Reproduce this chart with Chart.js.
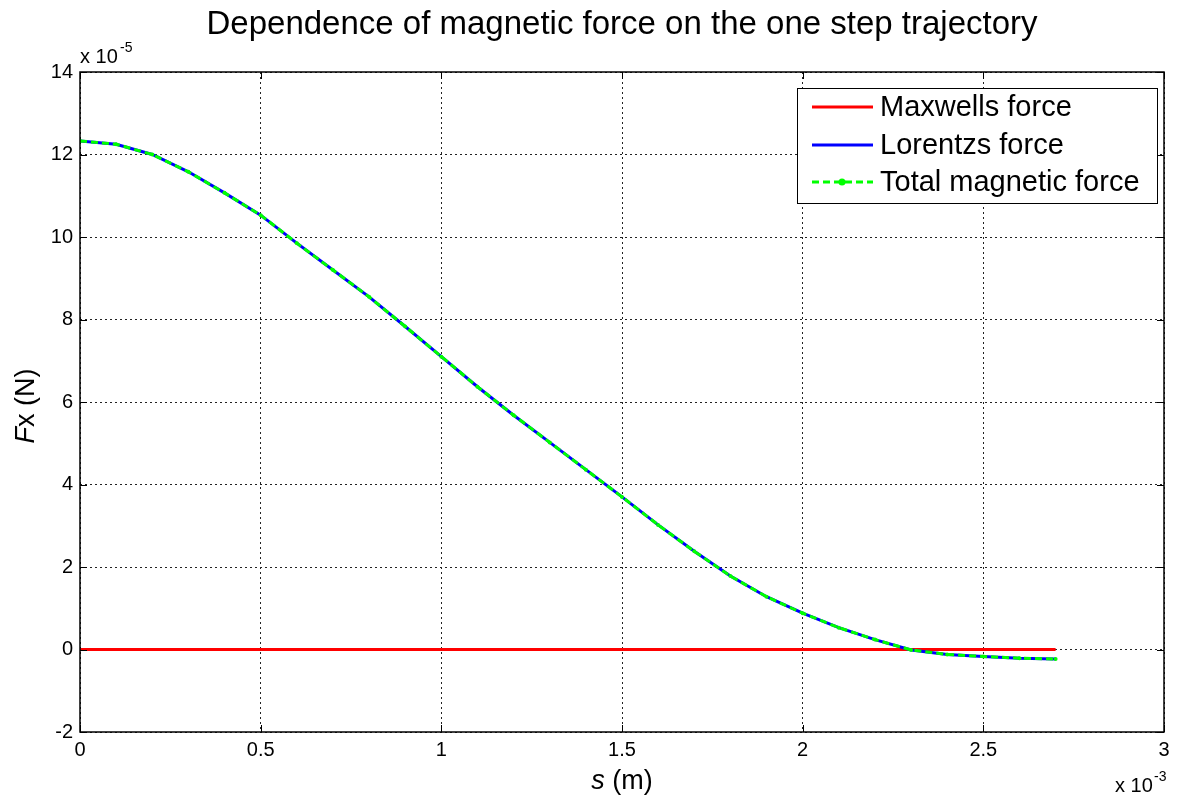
<!DOCTYPE html>
<html>
<head>
<meta charset="utf-8">
<title>Dependence of magnetic force on the one step trajectory</title>
<script src="https://cdn.jsdelivr.net/npm/chart.js@4/dist/chart.umd.min.js"></script>
<style>
  body { margin: 0; background: #fff; }
  canvas { display: block; }
</style>
</head>
<body>
<canvas id="forceChart" width="1183" height="798"></canvas>
<script>
// data: s in units of 10^-3 m, forces in units of 10^-5 N
var sValues = [0, 0.1, 0.2, 0.3, 0.4, 0.5, 0.6, 0.7, 0.8, 0.9, 1.0, 1.1, 1.2, 1.3,
               1.4, 1.5, 1.6, 1.7, 1.8, 1.9, 2.0, 2.1, 2.2, 2.3, 2.4, 2.5, 2.6, 2.7];
var maxwellForce = [0, 0, 0, 0, 0, 0, 0, 0, 0, 0, 0, 0, 0, 0,
                    0, 0, 0, 0, 0, 0, 0, 0, 0, 0, 0, 0, 0, 0];
var lorentzForce = [12.33, 12.25, 12.0, 11.58, 11.07, 10.53, 9.85, 9.2, 8.55, 7.83, 7.1, 6.37, 5.68, 5.02,
                    4.36, 3.7, 3.02, 2.38, 1.78, 1.28, 0.88, 0.53, 0.24, -0.01, -0.12, -0.17, -0.21, -0.23];
var totalForce = [12.33, 12.25, 12.0, 11.58, 11.07, 10.53, 9.85, 9.2, 8.55, 7.83, 7.1, 6.37, 5.68, 5.02,
                  4.36, 3.7, 3.02, 2.38, 1.78, 1.28, 0.88, 0.53, 0.24, -0.01, -0.12, -0.17, -0.21, -0.23];
var xTicks = [0, 0.5, 1, 1.5, 2, 2.5, 3];
var yTicks = [-2, 0, 2, 4, 6, 8, 10, 12, 14];

var FONT = '"Liberation Sans", Arial, sans-serif';

const toPoints = (ys) => sValues.map((s, i) => ({ x: s, y: ys[i] }));

// MATLAB-ish frame, titles and legend
var matlabDecor = {
  id: 'matlabDecor',
  afterDraw(chart) {
    const c = chart.ctx;
    const a = chart.chartArea;
    const xs = chart.scales.x, ys = chart.scales.y;
    c.save();

    // box
    c.strokeStyle = '#000';
    c.lineWidth = 1.5;
    c.setLineDash([]);
    c.strokeRect(a.left, a.top, a.right - a.left, a.bottom - a.top);

    // inner tick marks
    c.lineWidth = 1;
    c.beginPath();
    xTicks.forEach(v => {
      const px = Math.round(xs.getPixelForValue(v)) + 0.5;
      c.moveTo(px, a.bottom); c.lineTo(px, a.bottom - 7);
      c.moveTo(px, a.top); c.lineTo(px, a.top + 7);
    });
    yTicks.forEach(v => {
      const py = Math.round(ys.getPixelForValue(v)) + 0.5;
      c.moveTo(a.left, py); c.lineTo(a.left + 7, py);
      c.moveTo(a.right, py); c.lineTo(a.right - 7, py);
    });
    c.stroke();

    c.fillStyle = '#000';
    c.textBaseline = 'alphabetic';

    // title
    c.font = '33px ' + FONT;
    c.textAlign = 'center';
    c.fillText('Dependence of magnetic force on the one step trajectory', (a.left + a.right) / 2, 34);

    // exponents
    c.textAlign = 'left';
    c.font = '20px ' + FONT;
    c.fillText('x 10', a.left, 63);
    c.font = '14px ' + FONT;
    c.fillText('-5', a.left + 40, 52);
    c.font = '20px ' + FONT;
    c.fillText('x 10', a.right - 49, 792);
    c.font = '14px ' + FONT;
    c.fillText('-3', a.right - 10, 781);

    // axis titles with italic symbol
    const drawMixed = (parts, cx, cy) => {
      let w = 0;
      parts.forEach(p => { c.font = p.f; w += c.measureText(p.t).width; });
      let x = cx - w / 2;
      c.textAlign = 'left';
      parts.forEach(p => { c.font = p.f; c.fillText(p.t, x, cy); x += c.measureText(p.t).width; });
    };
    drawMixed([{ t: 's', f: 'italic 27px ' + FONT }, { t: ' (m)', f: '27px ' + FONT }],
              (a.left + a.right) / 2, 789);
    c.save();
    c.translate(34, (a.top + a.bottom) / 2 + 4);
    c.rotate(-Math.PI / 2);
    drawMixed([{ t: 'F', f: 'italic 27px ' + FONT }, { t: 'x (N)', f: '27px ' + FONT }], 0, 0);
    c.restore();

    // legend box
    const lx = 797, ly = 88, lw = 360, lh = 115;
    c.fillStyle = '#fff';
    c.fillRect(lx, ly, lw, lh);
    c.strokeStyle = '#000';
    c.lineWidth = 1;
    c.strokeRect(lx + 0.5, ly + 0.5, lw, lh);
    const rows = [107, 145, 182];
    c.font = '29px ' + FONT;
    c.textBaseline = 'middle';
    chart.data.datasets.forEach((ds, r) => {
      const y = rows[r];
      c.strokeStyle = ds.borderColor;
      c.lineWidth = ds.borderWidth;
      c.setLineDash(ds.borderDash || []);
      c.beginPath();
      c.moveTo(812, y); c.lineTo(873, y);
      c.stroke();
      c.setLineDash([]);
      if (ds.pointRadius) {
        c.fillStyle = ds.pointBackgroundColor;
        c.beginPath();
        c.arc(842, y, 3.5, 0, Math.PI * 2);
        c.fill();
      }
      c.fillStyle = '#000';
      c.textAlign = 'left';
      c.fillText(ds.label, 880, y + 1);
    });
    c.restore();
  }
};

var ctx = document.getElementById('forceChart').getContext('2d');

var chart = new Chart(ctx, {
  type: 'line',
  data: {
    datasets: [{
      label: 'Maxwells force',
      data: toPoints(maxwellForce),
      borderColor: '#ff0000',
      borderWidth: 3,
      pointRadius: 0,
      order: 2
    }, {
      label: 'Lorentzs force',
      data: toPoints(lorentzForce),
      borderColor: '#0000ff',
      borderWidth: 3,
      pointRadius: 0,
      order: 1
    }, {
      label: 'Total magnetic force',
      data: toPoints(totalForce),
      borderColor: '#00ff00',
      borderWidth: 3,
      borderDash: [7, 4],
      pointRadius: 2,
      pointBackgroundColor: '#00ff00',
      pointBorderWidth: 0,
      order: 0
    }]
  },
  plugins: [matlabDecor],
  options: {
    responsive: false,
    animation: false,
    layout: { padding: { top: 72, right: 19, left: 0, bottom: 0 } },
    plugins: {
      legend: { display: false },
      title: { display: false },
      tooltip: { enabled: false }
    },
    scales: {
      x: {
        type: 'linear',
        min: 0,
        max: 3,
        afterFit: (scale) => { scale.height = 66; },
        afterBuildTicks: (scale) => { scale.ticks = xTicks.map(v => ({ value: v })); },
        ticks: {
          callback: (v) => String(v),
          color: '#000',
          font: { family: FONT, size: 20 },
          padding: 6
        },
        grid: { color: '#222', lineWidth: 1, drawTicks: false },
        border: { display: false, dash: [2, 3] }
      },
      y: {
        min: -2,
        max: 14,
        afterFit: (scale) => { scale.width = 80; },
        afterBuildTicks: (scale) => { scale.ticks = yTicks.map(v => ({ value: v })); },
        ticks: {
          callback: (v) => String(v),
          color: '#000',
          font: { family: FONT, size: 20 },
          padding: 7
        },
        grid: { color: '#222', lineWidth: 1, drawTicks: false },
        border: { display: false, dash: [2, 3] }
      }
    }
  }
});
</script>
</body>
</html>
